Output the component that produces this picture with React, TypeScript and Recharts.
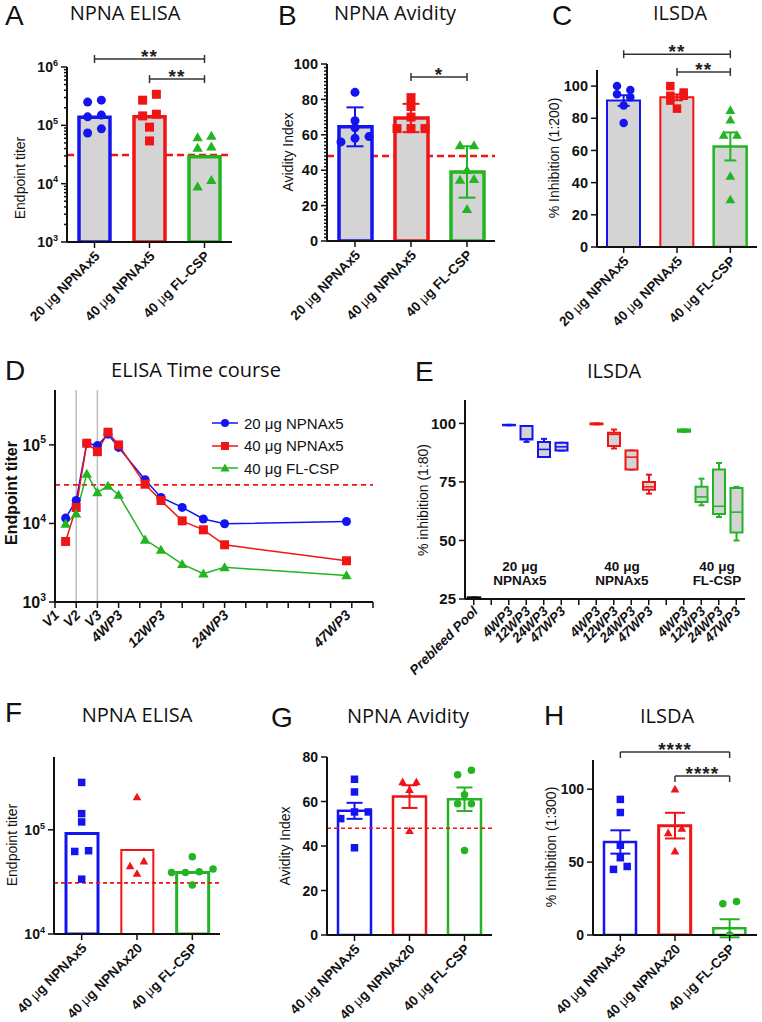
import React from "react";
import {
  ComposedChart,
  Bar,
  Cell,
  Scatter,
  ErrorBar,
  Line,
  XAxis,
  YAxis,
  ReferenceLine,
  Legend,
} from "recharts";

const BLUE = "#1414f0";
const RED = "#f01414";
const GREEN = "#22b422";
const GREY = "#d4d4d4";
const INK = "#111";
const SANS = "'Liberation Sans', Arial, sans-serif";
const TITLE_FONT = "'Open Sans', 'Noto Sans', sans-serif";
const COLORS = [BLUE, RED, GREEN];

// ---- groups ----
const groupsTop = ["20 μg NPNAx5", "40 μg NPNAx5", "40 μg FL-CSP"];
const groupsBottom = ["40 μg NPNAx5", "40 μg NPNAx20", "40 μg FL-CSP"];
const kindsTop = ["circle", "square", "triangle"];
const kindsBottom = ["square", "triangle", "circle"];

// ---- A: NPNA ELISA (geo mean titer) ----
const titerMeanA = [138000, 140000, 29000];
const titerPtsA = [
  [270000, 250000, 150000, 140000, 87000, 74000],
  [340000, 270000, 155000, 145000, 93000, 54000],
  [66000, 62000, 43000, 41000, 11500, 8900],
];
const titerCutoff = 31000;

// ---- B: NPNA avidity ----
const avidityMeanB = [64.5, 69.5, 39];
const aviditySdB = [11, 8, 14.5];
const avidityPtsB = [
  [84, 68, 64, 59, 58, 56],
  [81, 76, 70, 63.5, 63.5, 63.5],
  [54, 54, 40, 35, 34.5, 18],
];
const avidityCutoff = 48;

// ---- C: ILSDA 1:200 ----
const inhibMeanC = [91, 93, 62.5];
const inhibSemC = [3.3, 1.8, 8.7];
const inhibPtsC = [
  [100, 97.5, 95, 93, 88, 77],
  [100, 96, 94, 94, 91, 86],
  [85, 79, 69.5, 69.5, 44, 29.5],
];

// ---- D: ELISA time course ----
const courseWeeks = [2, 4, 6, 8, 10, 12, 17, 20, 24, 28, 32, 55];
const course20 = [11700, 19600, 105000, 98000, 137000, 93000, 36000, 21400, 16000, 11400, 9900, 10600];
const course40 = [5900, 16000, 105000, 82000, 145000, 100000, 31600, 19600, 10800, 8300, 5350, 3350];
const courseFl = [9900, 13300, 42700, 24800, 30000, 23100, 6200, 4600, 3040, 2290, 2760, 2180];
const courseTicks = [0, 4, 8, 12, 16, 20, 24, 28, 32, 36, 40, 44, 48, 52, 56, 60];
const courseLabelWeeks = [0, 4, 8, 12, 20, 32, 55];
const courseLabelNames = ["V1", "V2", "V3", "4WP3", "12WP3", "24WP3", "47WP3"];
const doseWeeks = [4, 8];

// ---- E: ILSDA 1:80 box plots [min, q1, median, q3, max] ----
const ilsdaTimes = ["4WP3", "12WP3", "24WP3", "47WP3"];
const prebleedBox = [25, 25, 25.3, 25.6, 25.6];
const boxes20 = [
  [99.2, 99.2, 99.3, 99.4, 99.4],
  [92.1, 93.1, 93.4, 98.9, 98.9],
  [85.7, 85.7, 88.9, 92.1, 93.4],
  [88.4, 88.4, 90, 91.7, 91.7],
];
const boxes40 = [
  [99.6, 99.6, 99.8, 100, 100],
  [89.3, 90.3, 95.3, 96, 97.4],
  [80.3, 80.3, 85.6, 88.4, 88.4],
  [70, 71.7, 72.9, 75, 78.1],
];
const boxesFl = [
  [96.4, 96.4, 96.9, 97.4, 97.4],
  [65, 66.4, 68.6, 72.9, 76.4],
  [60, 61.3, 64.6, 80.3, 83.1],
  [50, 53.4, 62.1, 72.4, 72.9],
];

// ---- F: NPNA ELISA ----
const titerMeanF = [92000, 64000, 39000];
const titerPtsF = [
  [285000, 143000, 119000, 63000, 62000, 33600],
  [206000, 50000, 45000, 38000],
  [55000, 42000, 39500, 39000, 39000, 29600],
];

// ---- G: NPNA avidity ----
const avidityMeanG = [55.8, 62.2, 61];
const aviditySemG = [3.6, 5.1, 5.3];
const avidityPtsG = [
  [70, 64.3, 55.3, 55.3, 52.3, 39.2],
  [68.8, 68.8, 65.3, 46.8],
  [74, 72, 63, 59, 59, 38],
];

// ---- H: ILSDA 1:300 ----
const inhibMeanH = [63.8, 75, 4.6];
const inhibSemH = [8, 8.8, 6.2];
const inhibPtsH = [
  [93, 84, 61.5, 53, 47, 45],
  [100, 73, 70, 57.5],
  [23, 21.5, 0],
];

function logTicks(lo: number, hi: number) {
  const out: number[] = [];
  for (let d = lo; d < hi; d++) for (let k = 1; k < 10; k++) out.push(k * 10 ** d);
  out.push(10 ** hi);
  return out;
}

// column-scatter layout: near-equal values are spread sideways
const LANE = 0.25;
function spread(values: number[], group: number, log: boolean, domain: number[]) {
  const u = (v: number) => (log ? Math.log10(v) : v);
  const thr = 0.04 * (u(domain[1]) - u(domain[0]));
  const sorted = [...values].sort((a, b) => a - b);
  const clusters: number[][] = [];
  for (const v of sorted) {
    const c = clusters[clusters.length - 1];
    if (c && u(v) - u(c[c.length - 1]) < thr) c.push(v);
    else clusters.push([v]);
  }
  const out: { x: number; y: number }[] = [];
  for (const c of clusters) {
    const tight = u(c[c.length - 1]) - u(c[0]) < thr;
    c.forEach((v, i) => {
      const off =
        tight || c.length <= 2
          ? i - (c.length - 1) / 2
          : (c.length - 1 - i) % 2 === 0
          ? -0.5
          : 0.5;
      out.push({ x: group + off * LANE, y: v });
    });
  }
  return out;
}

function Marker({ cx, cy, kind, color, size }: any) {
  if (cx == null || cy == null) return <g />;
  const h = size / 2;
  if (kind === "circle") return <circle cx={cx} cy={cy} r={h} fill={color} />;
  if (kind === "square")
    return <rect x={cx - h} y={cy - h} width={size} height={size} fill={color} />;
  const t = h * 1.15;
  return (
    <path
      d={`M${cx},${cy - t}L${cx + t},${cy + t * 0.75}L${cx - t},${cy + t * 0.75}Z`}
      fill={color}
    />
  );
}

function YTick(props: any) {
  const { x, y, payload, majors, log, size } = props;
  const v = payload.value;
  const major = majors.includes(v);
  return (
    <g>
      <line x1={x} x2={x - (major ? 6 : 3)} y1={y} y2={y} stroke={INK} strokeWidth={1.5} />
      {major && (
        <text
          x={x - 9}
          y={y}
          dy="0.36em"
          textAnchor="end"
          fontFamily={SANS}
          fontWeight="bold"
          fontSize={size}
          fill={INK}
        >
          {log ? (
            <>
              10
              <tspan dy={-size * 0.45} fontSize={size * 0.65}>
                {Math.round(Math.log10(v))}
              </tspan>
            </>
          ) : (
            v
          )}
        </text>
      )}
    </g>
  );
}

function GroupTick(props: any) {
  const { x, y, payload, size } = props;
  const parts = String(payload.value).split("μ");
  return (
    <g transform={`translate(${x},${y})`}>
      <line x1={0} x2={0} y1={0} y2={6} stroke={INK} strokeWidth={1.5} />
      <text
        transform="translate(6,15) rotate(-45)"
        textAnchor="end"
        fontFamily={SANS}
        fontWeight="bold"
        fontSize={size}
        fill={INK}
      >
        {parts[0]}
        {parts.length > 1 && <tspan fontWeight="normal">μ</tspan>}
        {parts[1]}
      </text>
    </g>
  );
}

function AxisTitle({ tx, ty, text, bold, size }: any) {
  return (
    <text
      x={tx}
      y={ty}
      transform={`rotate(-90 ${tx} ${ty})`}
      textAnchor="middle"
      dominantBaseline="central"
      fontFamily={SANS}
      fontWeight={bold ? "bold" : "normal"}
      fontSize={size || 14}
      fill={INK}
    >
      {text}
    </text>
  );
}

function Bracket(props: any) {
  const { x1, x2, y1, stars, down } = props;
  const top = down ? y1 : y1 - 4;
  const bot = down ? y1 + 6 : y1 + 4;
  return (
    <g>
      <line x1={x1} x2={x2} y1={y1} y2={y1} stroke="#333" strokeWidth={1.5} />
      <line x1={x1} x2={x1} y1={top} y2={bot} stroke="#333" strokeWidth={1.5} />
      <line x1={x2} x2={x2} y1={top} y2={bot} stroke="#333" strokeWidth={1.5} />
      <text
        x={(x1 + x2) / 2}
        y={y1 + 4}
        textAnchor="middle"
        fontFamily={SANS}
        fontWeight="bold"
        fontSize={19}
        letterSpacing={1}
        fill="#222"
      >
        {stars}
      </text>
    </g>
  );
}

function ColumnPanel(cfg: any) {
  const [bx, by, bw, bh] = cfg.box;
  const [L, T, R, B] = cfg.plot;
  const rows = cfg.groups.map((name: string, i: number) => ({ name, mean: cfg.means[i] }));
  return (
    <div style={{ position: "absolute", left: bx, top: by }}>
      <ComposedChart
        width={bw}
        height={bh}
        data={rows}
        margin={{ top: T - by, right: bx + bw - R, bottom: 0, left: 0 }}
      >
        <XAxis
          dataKey="name"
          height={by + bh - B}
          interval={0}
          tickLine={false}
          tickSize={0}
          tickMargin={0}
          axisLine={{ stroke: INK, strokeWidth: 2 }}
          tick={(p: any) => <GroupTick {...p} size={cfg.labelSize} />}
        />
        <XAxis xAxisId="j" type="number" dataKey="x" domain={[-0.5, 2.5]} hide allowDataOverflow />
        <YAxis
          width={L - bx}
          type="number"
          scale={cfg.log ? "log" : "linear"}
          domain={cfg.domain}
          ticks={cfg.ticks}
          interval={0}
          allowDataOverflow
          tickLine={false}
          tickSize={0}
          tickMargin={0}
          axisLine={{ stroke: INK, strokeWidth: 2 }}
          tick={(p: any) => <YTick {...p} majors={cfg.majors} log={cfg.log} size={cfg.tickSize} />}
          label={<AxisTitle tx={cfg.yTitle[1] - bx} ty={cfg.yTitle[2] - by} text={cfg.yTitle[0]} />}
        />
        {cfg.cutoff != null && (
          <ReferenceLine
            y={cfg.cutoff}
            stroke={RED}
            strokeDasharray={cfg.dash}
            strokeWidth={cfg.dashWidth}
            zIndex={cfg.fill === GREY ? 200 : 450}
          />
        )}
        <Bar dataKey="mean" barSize={cfg.barSize} fill={cfg.fill} isAnimationActive={false}>
          {cfg.groups.map((g: string, i: number) => (
            <Cell key={g} stroke={COLORS[i]} strokeWidth={cfg.strokes[i]} />
          ))}
        </Bar>
        {cfg.errs &&
          cfg.groups.map((g: string, i: number) => (
            <Scatter
              key={"e" + g}
              xAxisId="j"
              data={[{ x: i, y: cfg.means[i], err: cfg.errs[i] }]}
              dataKey="y"
              shape={() => <g />}
              isAnimationActive={false}
            >
              <ErrorBar
                dataKey="err"
                direction="y"
                width={cfg.capHalf}
                stroke={COLORS[i]}
                strokeWidth={2}
              />
            </Scatter>
          ))}
        {cfg.groups.map((g: string, i: number) => (
          <Scatter
            key={"p" + g}
            xAxisId="j"
            data={spread(cfg.points[i], i, !!cfg.log, cfg.domain)}
            dataKey="y"
            isAnimationActive={false}
            shape={(p: any) => (
              <Marker cx={p.cx} cy={p.cy} kind={cfg.kinds[i]} color={COLORS[i]} size={cfg.markSize} />
            )}
          />
        ))}
        {cfg.brackets.map((b: any, k: number) => (
          <ReferenceLine
            key={"b" + k}
            segment={[
              { x: cfg.groups[b.from], y: b.at },
              { x: cfg.groups[b.to], y: b.at },
            ]}
            ifOverflow="visible"
            shape={(p: any) => <Bracket {...p} stars={b.stars} down={b.down} />}
          />
        ))}
      </ComposedChart>
    </div>
  );
}

// ---- D ----
const courseSeries = [
  { key: "s20", name: "20 μg NPNAx5", color: BLUE, kind: "circle", values: course20 },
  { key: "s40", name: "40 μg NPNAx5", color: RED, kind: "square", values: course40 },
  { key: "sfl", name: "40 μg FL-CSP", color: GREEN, kind: "triangle", values: courseFl },
];

function WeekTick({ x, y, payload }: any) {
  const v = payload.value;
  const idx = courseLabelWeeks.indexOf(v);
  return (
    <g transform={`translate(${x},${y})`}>
      {courseTicks.includes(v) && <line x1={0} x2={0} y1={0} y2={6} stroke={INK} strokeWidth={1.5} />}
      {idx >= 0 && (
        <text
          transform="translate(5,14) rotate(-45)"
          textAnchor="end"
          fontFamily={SANS}
          fontWeight="bold"
          fontStyle="italic"
          fontSize={14}
          fill={INK}
        >
          {courseLabelNames[idx]}
        </text>
      )}
    </g>
  );
}

function CourseLegend({ payload }: any) {
  const items = courseSeries.map((s) => {
    const p = (payload || []).find((q: any) => q.dataKey === s.key);
    return { ...s, label: p ? p.value : s.name };
  });
  return (
    <div>
      {items.map((s) => (
        <div key={s.key} style={{ display: "flex", alignItems: "center", height: 22.5 }}>
          <svg width={26} height={14}>
            <line x1={0} x2={26} y1={7} y2={7} stroke={s.color} strokeWidth={1.5} />
            <Marker cx={13} cy={7} kind={s.kind} color={s.color} size={8} />
          </svg>
          <span style={{ marginLeft: 6, fontFamily: SANS, fontSize: 15, color: INK }}>{s.label}</span>
        </div>
      ))}
    </div>
  );
}

function CoursePanel() {
  const rows = courseWeeks.map((w, i) => {
    const r: any = { week: w };
    courseSeries.forEach((s) => (r[s.key] = s.values[i]));
    return r;
  });
  return (
    <div style={{ position: "absolute", left: 0, top: 330 }}>
      <ComposedChart width={380} height={350} data={rows} margin={{ top: 60, right: 7, bottom: 0, left: 0 }}>
        <XAxis
          dataKey="week"
          type="number"
          domain={[0, 60]}
          ticks={[...courseTicks, 55]}
          interval={0}
          height={78}
          allowDataOverflow
          tickLine={false}
          tickSize={0}
          tickMargin={0}
          axisLine={{ stroke: INK, strokeWidth: 2 }}
          tick={(p: any) => <WeekTick {...p} />}
        />
        <YAxis
          width={55}
          type="number"
          scale="log"
          domain={[1000, 500000]}
          ticks={[1000, 10000, 100000]}
          interval={0}
          allowDataOverflow
          tickLine={false}
          tickSize={0}
          tickMargin={0}
          axisLine={{ stroke: INK, strokeWidth: 2 }}
          tick={(p: any) => <YTick {...p} majors={[1000, 10000, 100000]} log size={16} />}
          label={<AxisTitle tx={11} ty={163} text="Endpoint titer" bold size={16} />}
        />
        {doseWeeks.map((w) => (
          <ReferenceLine key={w} x={w} stroke="#bdbdbd" strokeWidth={1.5} />
        ))}
        <ReferenceLine y={titerCutoff} stroke={RED} strokeDasharray="5 4" strokeWidth={1.8} />
        {courseSeries.map((s) => (
          <Line
            key={s.key}
            dataKey={s.key}
            name={s.name}
            stroke={s.color}
            strokeWidth={1.5}
            isAnimationActive={false}
            dot={(p: any) => (
              <Marker key={s.key + p.index} cx={p.cx} cy={p.cy} kind={s.kind} color={s.color} size={9} />
            )}
          />
        ))}
        <Legend
          layout="vertical"
          align="center"
          verticalAlign="middle"
          wrapperStyle={{ left: 212, top: 82, width: 170 }}
          content={(p: any) => <CourseLegend payload={p.payload} />}
        />
      </ComposedChart>
    </div>
  );
}

// ---- E ----
const boxGroups = [boxes20, boxes40, boxesFl];
const boxRows: any[] = [{ key: "pre", label: "Prebleed Pool", box: prebleedBox, g: 3 }];
boxGroups.forEach((grp, g) => {
  boxRows.push({ key: "gap" + g, label: "" });
  ilsdaTimes.forEach((t, i) => boxRows.push({ key: t + g, label: t, box: grp[i], g }));
});
const BOX_COLORS = [BLUE, RED, GREEN, "#000"];

function BoxShape(props: any) {
  const { x, y, width, height, payload } = props;
  if (!payload || !payload.box) return <g />;
  const [lo, q1, med, q3, hi] = payload.box;
  const k = height / (hi - lo);
  const py = (v: number) => y + (hi - v) * k;
  const color = BOX_COLORS[payload.g];
  const cx = x + width / 2;
  const sw = payload.g === 3 ? 2.5 : 2;
  return (
    <g>
      <line x1={cx} x2={cx} y1={py(hi)} y2={py(q3)} stroke={color} strokeWidth={2} />
      <line x1={cx} x2={cx} y1={py(q1)} y2={py(lo)} stroke={color} strokeWidth={2} />
      <line x1={cx - 3} x2={cx + 3} y1={py(hi)} y2={py(hi)} stroke={color} strokeWidth={2} />
      <line x1={cx - 3} x2={cx + 3} y1={py(lo)} y2={py(lo)} stroke={color} strokeWidth={2} />
      <path
        d={`M${x},${py(q3)}H${x + width}V${py(q1)}H${x}Z`}
        fill={payload.g === 3 ? "#000" : GREY}
        stroke={color}
        strokeWidth={sw}
      />
      <line x1={x} x2={x + width} y1={py(med)} y2={py(med)} stroke={color} strokeWidth={1.5} />
    </g>
  );
}

function SlotTick({ x, y, payload }: any) {
  const row = boxRows.find((r) => r.key === payload.value);
  return (
    <g transform={`translate(${x},${y})`}>
      <line x1={0} x2={0} y1={0} y2={6} stroke={INK} strokeWidth={1.5} />
      {row && row.label && (
        <text
          transform="translate(5,13) rotate(-45)"
          textAnchor="end"
          fontFamily={SANS}
          fontWeight="bold"
          fontStyle="italic"
          fontSize={13.5}
          fill={INK}
        >
          {row.label}
        </text>
      )}
    </g>
  );
}

function BoxPanel() {
  return (
    <div style={{ position: "absolute", left: 380, top: 330 }}>
      <ComposedChart width={382} height={390} data={boxRows} margin={{ top: 70, right: 17, bottom: 0, left: 0 }}>
        <XAxis
          dataKey="key"
          height={121}
          interval={0}
          tickLine={false}
          tickSize={0}
          tickMargin={0}
          axisLine={{ stroke: INK, strokeWidth: 2 }}
          tick={(p: any) => <SlotTick {...p} />}
        />
        <YAxis
          width={85}
          type="number"
          domain={[25, 110]}
          ticks={[25, 50, 75, 100]}
          interval={0}
          allowDataOverflow
          tickLine={false}
          tickSize={0}
          tickMargin={0}
          axisLine={{ stroke: INK, strokeWidth: 2 }}
          tick={(p: any) => <YTick {...p} majors={[25, 50, 75, 100]} size={15} />}
          label={<AxisTitle tx={43} ty={170} text="% inhibition (1:80)" />}
        />
        <Bar
          dataKey={(d: any) => (d.box ? [d.box[0], d.box[4]] : null)}
          barSize={12}
          shape={(p: any) => <BoxShape {...p} />}
          isAnimationActive={false}
        />
      </ComposedChart>
    </div>
  );
}

// ---- panel configs (layout / styling) ----
const panelA = {
  box: [0, 0, 250, 330], plot: [67, 67, 232, 242],
  groups: groupsTop, means: titerMeanA, points: titerPtsA, kinds: kindsTop,
  strokes: [3.5, 3.5, 3.5], fill: GREY, barSize: 31, log: true, domain: [1000, 1000000],
  ticks: logTicks(3, 6), majors: [1e3, 1e4, 1e5, 1e6], tickSize: 14, labelSize: 13.5,
  cutoff: titerCutoff, dash: "7 4", dashWidth: 2.5, markSize: 9,
  brackets: [{ from: 0, to: 2, at: 1370000, stars: "**" }, { from: 1, to: 2, at: 620000, stars: "**" }],
  yTitle: ["Endpoint titer", 20, 178],
};
const panelB = {
  box: [250, 0, 250, 330], plot: [327, 64, 495, 241],
  groups: groupsTop, means: avidityMeanB, errs: aviditySdB, points: avidityPtsB, kinds: kindsTop,
  strokes: [3.5, 3.5, 3.5], fill: GREY, barSize: 33, domain: [0, 100],
  ticks: Array.from({ length: 51 }, (_, i) => i * 2), majors: [0, 20, 40, 60, 80, 100], tickSize: 14.5, labelSize: 13.5,
  cutoff: avidityCutoff, dash: "7 4", dashWidth: 2.5, markSize: 9, capHalf: 8.5,
  brackets: [{ from: 1, to: 2, at: 92.7, stars: "*" }],
  yTitle: ["Avidity Index", 288, 152],
};
const panelC = {
  box: [500, 0, 262, 330], plot: [597, 70, 757, 247],
  groups: groupsTop, means: inhibMeanC, errs: inhibSemC, points: inhibPtsC, kinds: kindsTop,
  strokes: [2, 2, 2.5], fill: GREY, barSize: 33, domain: [0, 110],
  ticks: [0, 20, 40, 60, 80, 100], majors: [0, 20, 40, 60, 80, 100], tickSize: 14.5, labelSize: 13.5,
  markSize: 8.5, capHalf: 6,
  brackets: [{ from: 0, to: 2, at: 119.8, stars: "**" }, { from: 1, to: 2, at: 108.8, stars: "**" }],
  yTitle: ["% Inhibition (1:200)", 554, 158],
};
const panelF = {
  box: [0, 690, 250, 332], plot: [54, 757, 220, 934],
  groups: groupsBottom, means: titerMeanF, points: titerPtsF, kinds: kindsBottom,
  strokes: [3, 2, 3], fill: "none", barSize: 32, log: true, domain: [10000, 500000],
  ticks: [10000, 100000], majors: [10000, 100000], tickSize: 14, labelSize: 13.5,
  cutoff: titerCutoff, dash: "4 3", dashWidth: 1.8, markSize: 7.5,
  brackets: [],
  yTitle: ["Endpoint titer", 12, 845],
};
const panelG = {
  box: [250, 690, 250, 332], plot: [327, 757, 492, 935],
  groups: groupsBottom, means: avidityMeanG, errs: aviditySemG, points: avidityPtsG, kinds: kindsBottom,
  strokes: [2.5, 2.5, 2.5], fill: "none", barSize: 33, domain: [0, 80],
  ticks: [0, 20, 40, 60, 80], majors: [0, 20, 40, 60, 80], tickSize: 14, labelSize: 13.5,
  cutoff: avidityCutoff, dash: "4 3", dashWidth: 1.5, markSize: 7.5, capHalf: 8,
  brackets: [],
  yTitle: ["Avidity Index", 285, 846],
};
const panelH = {
  box: [500, 690, 262, 332], plot: [593, 760, 757, 935],
  groups: groupsBottom, means: inhibMeanH, errs: inhibSemH, points: inhibPtsH, kinds: kindsBottom,
  strokes: [2.5, 3, 2.5], fill: "none", barSize: 32, domain: [0, 120],
  ticks: [0, 50, 100], majors: [0, 50, 100], tickSize: 14, labelSize: 13.5,
  markSize: 7.5, capHalf: 10,
  brackets: [
    { from: 0, to: 2, at: 125.5, stars: "****", down: true },
    { from: 1, to: 2, at: 109, stars: "****", down: true },
  ],
  yTitle: ["% Inhibition  (1:300)", 551, 847],
};

const letters: [string, number, number][] = [
  ["A", 5, 25], ["B", 278, 25], ["C", 552, 25], ["D", 5, 380],
  ["E", 415, 381], ["F", 5, 722], ["G", 271, 727], ["H", 544, 725],
];
const titles: [string, number, number][] = [
  ["NPNA ELISA", 125, 20], ["NPNA Avidity", 395, 20], ["ILSDA", 680, 20],
  ["ELISA Time course", 196, 377], ["ILSDA", 614, 378],
  ["NPNA ELISA", 137, 722], ["NPNA Avidity", 408, 723], ["ILSDA", 667, 723],
];
const boxNotes: [string, string, number][] = [
  ["20 μg", "NPNAx5", 520], ["40 μg", "NPNAx5", 622], ["40 μg", "FL-CSP", 717],
];

export default function App() {
  return (
    <div
      style={{
        position: "absolute",
        left: 0,
        top: 0,
        width: 762,
        height: 1022,
        background: "#fff",
        overflow: "hidden",
      }}
    >
      <ColumnPanel {...panelA} />
      <ColumnPanel {...panelB} />
      <ColumnPanel {...panelC} />
      <CoursePanel />
      <BoxPanel />
      <ColumnPanel {...panelF} />
      <ColumnPanel {...panelG} />
      <ColumnPanel {...panelH} />
      <svg
        width={762}
        height={1022}
        style={{ position: "absolute", left: 0, top: 0, pointerEvents: "none" }}
      >
        {letters.map(([t, x, y]) => (
          <text key={t} x={x} y={y} fontFamily={SANS} fontSize={28} fill={INK}>
            {t}
          </text>
        ))}
        {titles.map(([t, x, y], i) => (
          <text key={i} x={x} y={y} textAnchor="middle" fontFamily={TITLE_FONT} fontSize={20} fill={INK}>
            {t}
          </text>
        ))}
        {boxNotes.map(([a, b, x], i) => (
          <text key={i} x={x} textAnchor="middle" fontFamily={SANS} fontWeight="bold" fontSize={13.5} fill={INK}>
            <tspan x={x} y={571}>{a}</tspan>
            <tspan x={x} y={585}>{b}</tspan>
          </text>
        ))}
      </svg>
    </div>
  );
}
